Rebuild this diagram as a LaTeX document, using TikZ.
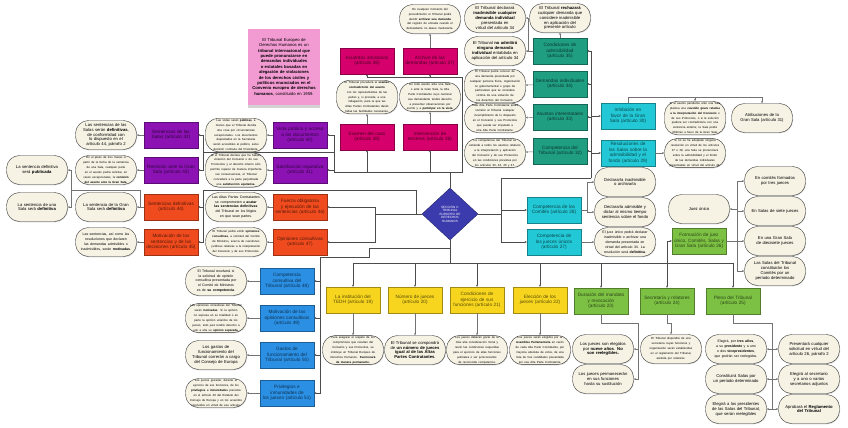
\documentclass[tikz,border=0pt]{standalone}
\usepackage{fontspec}
\setmainfont{Liberation Sans}
\usetikzlibrary{arrows.meta, shapes.geometric, shadows}
\hyphenpenalty=10000
\exhyphenpenalty=10000

\definecolor{fucsia}{HTML}{D5006B}
\definecolor{turquesa}{HTML}{1F9E82}
\definecolor{celeste}{HTML}{22C8D5}
\definecolor{morado}{HTML}{8C12B4}
\definecolor{naranja}{HTML}{F04B1E}
\definecolor{azul}{HTML}{2B8FE3}
\definecolor{amarillo}{HTML}{F7D51E}
\definecolor{verde}{HTML}{7CC143}
\definecolor{rombo}{HTML}{3B3BAE}
\definecolor{crema}{HTML}{F6F2E4}
\definecolor{postit}{HTML}{F29BD2}

\newcommand{\densa}{\fontsize{2.9}{3.45}\selectfont\hyphenpenalty=50 }
\newcommand{\media}{\fontsize{3.5}{4.1}\selectfont\hyphenpenalty=50 }

\tikzset{
	caja/.style={rectangle, draw=#1!65!black, fill=#1, text=#1!35!black, minimum width=54pt, minimum height=26pt, text width=50pt, inner sep=1pt, align=center, font=\fontsize{4.7}{5.5}\selectfont},
	nota/.style={rectangle, rounded corners=13pt, draw=black!80, fill=crema, minimum width=61pt, minimum height=29pt, text width=52pt, inner sep=1pt, align=center, font=\fontsize{4.2}{4.9}\selectfont, drop shadow={shadow xshift=0.6pt, shadow yshift=-0.8pt, opacity=0.3}},
	tronco/.style={draw=black!70, line width=0.8pt},
	rama/.style={draw=black!55, line width=0.45pt},
	>={Stealth[length=2.2pt, width=2pt]}
}

\begin{document}
\begin{tikzpicture}[x=1pt, y=-1pt]
	\useasboundingbox (0,0) rectangle (848,428);
	\fill[white] (0,0) rectangle (848,428);

	\node[diamond, fill=rombo, draw=rombo!60!black, minimum width=56pt, minimum height=52pt, inner sep=0pt, text width=30pt, align=center, text=white, font=\fontsize{3.1}{3.6}\selectfont] (sec) at (450,214) {SECCIÓN II:\\ TRIBUNAL\\ EUROPEO DE\\ DERECHOS\\ HUMANOS};

	\node[rectangle, fill=postit, minimum width=72pt, minimum height=76pt, text width=64pt, align=center, font=\fontsize{4.2}{5.4}\selectfont, drop shadow={shadow xshift=0pt, shadow yshift=-3pt, opacity=0.35}] (intro) at (284,67) {El Tribunal Europeo de Derechos Humanos es un \textbf{tribunal internacional que puede pronunciarse en demandas individuales o estatales basadas en alegación de violaciones de los derechos civiles y políticos enunciados en el Convenio europeo de derechos humanos}, constituido en 1959.};

	\foreach \nombre/\cx/\cy/\texto in {a39/367/61/{Acuerdos amistosos (artículo 39)}, a37/430/61/{Archivo de las demandas (artículo 37)}, a38/367/137/{Examen del caso (artículo 38)}, a36/430/137/{Intervención de terceros (artículo 36)}}
		\node[caja=fucsia] (\nombre) at (\cx,\cy) {\texto};
	\foreach \nombre/\cx/\cy/\texto in {t35/560/51/{Condiciones de admisibilidad (artículo 35)}, t34/560/84/{Demandas individuales (artículo 34)}, t33/560/117/{Asuntos interestatales (artículo 33)}, t32/560/151/{Competencia del Tribunal (artículo 32)}}
		\node[caja=turquesa] (\nombre) at (\cx,\cy) {\texto};
	\foreach \nombre/\cx/\cy/\texto in {c30/628/116/{Inhibición en favor de la Gran Sala (artículo 30)}, c29/628/153/{Resoluciones de las Salas sobre la admisibilidad y el fondo (artículo 29)}, c28/554/210/{Competencia de los Comités (artículo 28)}, c27/554/242/{Competencia de los jueces únicos (artículo 27)}}
		\node[caja=celeste] (\nombre) at (\cx,\cy) {\texto};
	\foreach \nombre/\cx/\cy/\texto in {p40/300/135/{Vista pública y acceso a los documentos (artículo 40)}, p41/300/170/{Satisfacción equitativa (artículo 41)}, p42/171/135/{Sentencias de las Salas (artículo 42)}, p43/171/170/{Remisión ante la Gran Sala (artículo 43)}}
		\node[caja=morado] (\nombre) at (\cx,\cy) {\texto};
	\foreach \nombre/\cx/\cy/\texto in {o44/171/207/{Sentencias definitivas (artículo 44)}, o45/171/242/{Motivación de las sentencias y de las decisiones (artículo 45)}, o46/300/207/{Fuerza obligatoria y ejecución de las sentencias (artículo 46)}, o47/300/242/{Opiniones consultivas (artículo 47)}}
		\node[caja=naranja] (\nombre) at (\cx,\cy) {\texto};
	\foreach \nombre/\cx/\cy/\texto in {b48/287/281/{Competencia consultiva del Tribunal (artículo 48)}, b49/287/318/{Motivación de las opiniones consultivas (artículo 49)}, b50/287/355/{Gastos de funcionamiento del Tribunal (artículo 50)}, b51/287/393/{Privilegios e inmunidades de los jueces (artículo 51)}}
		\node[caja=azul] (\nombre) at (\cx,\cy) {\texto};
	\foreach \nombre/\cx/\cy/\texto in {y19/353/300/{La institución del TEDH (artículo 19)}, y20/415/300/{Número de jueces (artículo 20)}, y21/477/300/{Condiciones de ejercicio de sus funciones (artículo 21)}, y22/540/300/{Elección de los jueces (artículo 22)}}
		\node[caja=amarillo] (\nombre) at (\cx,\cy) {\texto};
	\foreach \nombre/\cx/\cy/\texto in {g23/601/301/{Duración del mandato y revocación (artículo 23)}, g24/667/301/{Secretaría y relatores (artículo 24)}, g25/733/301/{Pleno del Tribunal (artículo 25)}, g26/699/241/{Formación de juez único, Comités, Salas y Gran Sala (artículo 26)}}
		\node[caja=verde] (\nombre) at (\cx,\cy) {\texto};

	\foreach \nombre/\cx/\cy/\texto in {
		e37/430/19/{\densa En cualquier momento del procedimiento el Tribunal podrá decidir \textbf{archivar una demanda} del registro de entrada cuando el demandante no desee mantenerla.},
		e38/367/97/{\densa El Tribunal procederá al \textbf{examen contradictorio del asunto} con los representantes de las partes y, si procede, a una indagación, para la que las Altas Partes Contratantes darán todas las facilidades necesarias.},
		e36/430/97/{\densa En todo asunto ante una Sala o ante la Gran Sala, la Alta Parte Contratante cuyo nacional sea demandante tendrá derecho a presentar observaciones por escrito y a \textbf{participar en la vista}.},
		e35b/495/18/{El Tribunal declarará \textbf{inadmisible cualquier demanda individual} presentada en virtud del artículo 34},
		e35c/560/18/{El Tribunal \textbf{rechazará} cualquier demanda que considere inadmisible en aplicación del presente artículo},
		e35a/495/51/{El Tribunal \textbf{no admitirá ninguna demanda individual} entablada en aplicación del artículo 34},
		e34/495/86/{\densa El Tribunal podrá conocer de una demanda presentada por cualquier persona física, organización no gubernamental o grupo de particulares que se considere víctima de una violación de los derechos del Convenio.},
		e33/495/118/{\densa Toda Alta Parte Contratante podrá someter al Tribunal cualquier incumplimiento de lo dispuesto en el Convenio y sus Protocolos que pueda ser imputado a otra Alta Parte Contratante.},
		e32/495/153/{\densa La competencia del Tribunal se extiende a todos los asuntos relativos a la interpretación y aplicación del Convenio y de sus Protocolos en las condiciones previstas por los artículos 33, 34, 46 y 47.}}
		\node[nota] (\nombre) at (\cx,\cy) {\texto};
	\foreach \nombre/\cx/\cy/\texto in {
		e30/695/118/{\densa Si el asunto pendiente ante una Sala plantea una \textbf{cuestión grave relativa a la interpretación del Convenio} o de sus Protocolos, o si la solución pudiera ser contradictoria con una sentencia anterior, la Sala podrá inhibirse a favor de la Gran Sala.},
		e31/762/118/{Atribuciones de la Gran Sala (artículo 31)},
		e29/695/153/{\densa Si no se ha adoptado ninguna resolución en virtud de los artículos 27 o 28, una Sala se pronunciará sobre la admisibilidad y el fondo de las demandas individuales presentadas en virtud del artículo 34.},
		e28a/625/182/{Declararla inadmisible o archivarla},
		e28b/625/212/{Declararla admisible y dictar al mismo tiempo sentencia sobre el fondo},
		e27/625/242/{\media El juez único podrá declarar inadmisible o archivar una demanda presentada en virtud del artículo 34. La resolución será \textbf{definitiva}.}}
		\node[nota] (\nombre) at (\cx,\cy) {\texto};
	\foreach \nombre/\cx/\cy/\texto in {
		e40/236/135/{\densa Las vistas serán \textbf{públicas}, a menos que el Tribunal decida otra cosa por circunstancias excepcionales. Los documentos depositados en la Secretaría serán accesibles al público, salvo decisión contraria del Presidente.},
		e41/236/170/{\densa Si el Tribunal declara que ha habido violación del Convenio o de sus Protocolos y el derecho interno sólo permite reparar de manera imperfecta sus consecuencias, el Tribunal concederá a la parte perjudicada una \textbf{satisfacción equitativa}.},
		e42/106/135/{Las sentencias de las Salas serán \textbf{definitivas}, de conformidad con lo dispuesto en el artículo 44, párrafo 2},
		e43/106/170/{\densa En el plazo de tres meses a partir de la fecha de la sentencia de una Sala, cualquier parte en el asunto podrá solicitar, en casos excepcionales, la \textbf{remisión del asunto ante la Gran Sala}.},
		ePub/37/170/{La sentencia definitiva será \textbf{publicada}},
		eSala/37/207/{La sentencia de una Sala será \textbf{definitiva}},
		e44/106/207/{La sentencia de la Gran Sala será \textbf{definitiva}},
		e45/106/242/{\media Las sentencias, así como las resoluciones que declaren las demandas admisibles o inadmisibles, serán \textbf{motivadas}.},
		e46/236/207/{\media Las Altas Partes Contratantes se comprometen a \textbf{acatar las sentencias definitivas} del Tribunal en los litigios en que sean partes.},
		e47/236/242/{\densa El Tribunal podrá emitir \textbf{opiniones consultivas}, a solicitud del Comité de Ministros, acerca de cuestiones jurídicas relativas a la interpretación del Convenio y de sus Protocolos.}}
		\node[nota] (\nombre) at (\cx,\cy) {\texto};
	\foreach \nombre/\cx/\cy/\texto in {
		e48/216/281/{\media El Tribunal resolverá si la solicitud de opinión consultiva presentada por el Comité de Ministros es de \textbf{su competencia}.},
		e49/216/318/{\densa Las opiniones consultivas del Tribunal serán \textbf{motivadas}. Si la opinión no expresa en su totalidad o en parte la opinión unánime de los jueces, todo juez tendrá derecho a unir a ella su \textbf{opinión separada}.},
		e50/216/355/{Los gastos de funcionamiento del Tribunal correrán a cargo del Consejo de Europa},
		e51/216/393/{\densa Los jueces gozarán, durante el ejercicio de sus funciones, de los \textbf{privilegios e inmunidades} previstos en el artículo 40 del Estatuto del Consejo de Europa y en los acuerdos concluidos en virtud de ese artículo.},
		e19/353/350/{\densa Para asegurar el respeto de los compromisos que resultan del Convenio y sus Protocolos, se instituye un Tribunal Europeo de Derechos Humanos. \textbf{Funcionará de manera permanente.}},
		e20/415/350/{El Tribunal se compondrá de \textbf{un número de jueces igual al de las Altas Partes Contratantes}.},
		e21/477/350/{\densa Los jueces deberán gozar de la más alta consideración moral y reunir las condiciones requeridas para el ejercicio de altas funciones judiciales o ser jurisconsultos de reconocida competencia.},
		e22/540/350/{\densa Los jueces serán elegidos por la \textbf{Asamblea Parlamentaria} en razón de cada Alta Parte Contratante, por mayoría absoluta de votos, de una lista de tres candidatos presentada por esa Alta Parte Contratante.}}
		\node[nota] (\nombre) at (\cx,\cy) {\texto};
	\foreach \nombre/\cx/\cy/\texto in {
		e23a/603/349/{Los jueces son elegidos por \textbf{nueve años}. \textbf{No son reelegibles.}},
		e23b/603/379/{Los jueces permanecerán en sus funciones hasta su sustitución},
		e24/671/349/{\densa El Tribunal dispondrá de una secretaría cuyas funciones y organización serán establecidas en el reglamento del Tribunal, asistida por relatores.},
		e25a/736/349/{\media Elegirá, por \textbf{tres años}, a su \textbf{presidente} y a uno o dos \textbf{vicepresidentes}, que podrán ser reelegidos.},
		e25b/736/379/{Constituirá Salas por un período determinado},
		e25c/736/409/{Elegirá a los presidentes de las Salas del Tribunal, que serán reelegibles},
		e25d/809/349/{Presentará cualquier solicitud en virtud del artículo 26, párrafo 2},
		e25e/809/379/{Elegirá al secretario y a uno o varios secretarios adjuntos},
		e25f/809/409/{Aprobará el \textbf{Reglamento del Tribunal}},
		eJU/699/209/{Juez único},
		e26a/775/181/{En comités formados por tres jueces},
		e26b/775/211/{En Salas de siete jueces},
		e26c/775/241/{En una Gran Sala de diecisiete jueces},
		e26d/775/271/{Las Salas del Tribunal constituirán los Comités por un período determinado}}
		\node[nota] (\nombre) at (\cx,\cy) {\texto};

	\coordinate (jArr) at (450,172);
	\coordinate (jAc) at (462,77);
	\coordinate (jPu) at (334,172);
	\coordinate (jPs) at (203,152);
	\coordinate (jCo) at (501,178);
	\coordinate (jTe) at (591,178);
	\coordinate (jOr) at (375,214);
	\coordinate (jOs) at (416,214);
	\coordinate (jOl) at (203,190);
	\coordinate (jBl) at (450,248);
	\coordinate (jBu) at (320,257);
	\coordinate (jYe) at (450,263);
	\coordinate (jFo) at (667,263);

	\draw[tronco] (sec.north) -- (jArr) -- (jPu);
	\draw[tronco] (jArr) -| (jAc);
	\foreach \hasta in {a38, a36} \draw[tronco,->] (jArr) -| (\hasta.south);
	\foreach \hasta in {a39, a37} \draw[tronco,->] (jAc) -| (\hasta.south);
	\foreach \hasta in {p40, p41} \draw[tronco,->] (jPu) |- (\hasta.east);
	\draw[tronco] (jPu) |- (jPs);
	\foreach \hasta in {p42, p43} \draw[tronco,->] (jPs) |- (\hasta.east);
	\draw[tronco] (sec.east) -| (jCo) -- (jTe);
	\foreach \hasta in {c28, c27} \draw[tronco,->] (jCo) |- (\hasta.west);
	\foreach \hasta in {t35, t34, t33, t32} \draw[tronco,->] (jTe) |- (\hasta.east);
	\foreach \hasta in {c30, c29} \draw[tronco,->] (jTe) |- (\hasta.west);
	\draw[tronco] (sec.west) -- (jOr);
	\foreach \hasta in {o46, o47} \draw[tronco,->] (jOr) |- (\hasta.east);
	\draw[tronco] (jOs) |- (jOl);
	\foreach \hasta in {o44, o45} \draw[tronco,->] (jOl) |- (\hasta.east);
	\draw[tronco] (sec.south) -- (jYe);
	\draw[tronco] (jBl) -- ++(-81,0) |- (jBu);
	\foreach \hasta in {b48, b49, b50, b51} \draw[tronco,->] (jBu) |- (\hasta.east);
	\foreach \hasta in {y19, y20, y21, y22, g23, g24, g25} \draw[tronco,->] (jYe) -| (\hasta.north);
	\draw[tronco,->] (jFo) |- (g26.west);

	\foreach \desde/\hasta in {a38/e38, a36/e36, a37/e37, t35/e35a, t35/e35c, t34/e34, t33/e33, t32/e32, c29/e29, c27/e27, p40/e40, p41/e41, p42/e42, p43/e43, o44/e44, o45/e45, o46/e46, o47/e47, b48/e48, b49/e49, b50/e50, b51/e51, y19/e19, y20/e20, y21/e21, y22/e22}
		\draw[rama,->] (\desde) -- (\hasta);

	\coordinate (jAd) at (528,51);
	\coordinate (jGs) at (628,97);
	\coordinate (jCm) at (587,210);
	\coordinate (jSd) at (140,207);
	\coordinate (jSl) at (71,190);
	\coordinate (jMa) at (638,323);
	\coordinate (jPl) at (772,323);
	\coordinate (jSa) at (737,241);

	\draw[rama,->] (jAd) |- (e35b.east);
	\draw[rama] (c30.north) -- (jGs);
	\foreach \hasta in {e30, e31} \draw[rama,->] (jGs) -| (\hasta.north);
	\draw[rama] (c28.east) -- (jCm);
	\foreach \hasta in {e28a, e28b} \draw[rama,->] (jCm) |- (\hasta.west);
	\draw[rama] (jSd) |- (jSl);
	\foreach \hasta in {ePub, eSala} \draw[rama,->] (jSl) |- (\hasta.east);
	\draw[rama] (g23.south) |- (jMa);
	\foreach \hasta in {e23a, e23b} \draw[rama,->] (jMa) |- (\hasta.east);
	\draw[rama,->] (g24.south) -- ++(0,9) -| (e24.north);
	\draw[rama] (g25.south) |- (jPl);
	\foreach \hasta in {e25a, e25b, e25c} \draw[rama,->] (jPl) |- (\hasta.east);
	\foreach \hasta in {e25d, e25e, e25f} \draw[rama,->] (jPl) |- (\hasta.west);
	\draw[rama] (g26.east) -- (jSa);
	\draw[rama,->] (jSa) |- (eJU.east);
	\foreach \hasta in {e26a, e26b, e26c, e26d} \draw[rama,->] (jSa) |- (\hasta.west);
\end{tikzpicture}
\end{document}
